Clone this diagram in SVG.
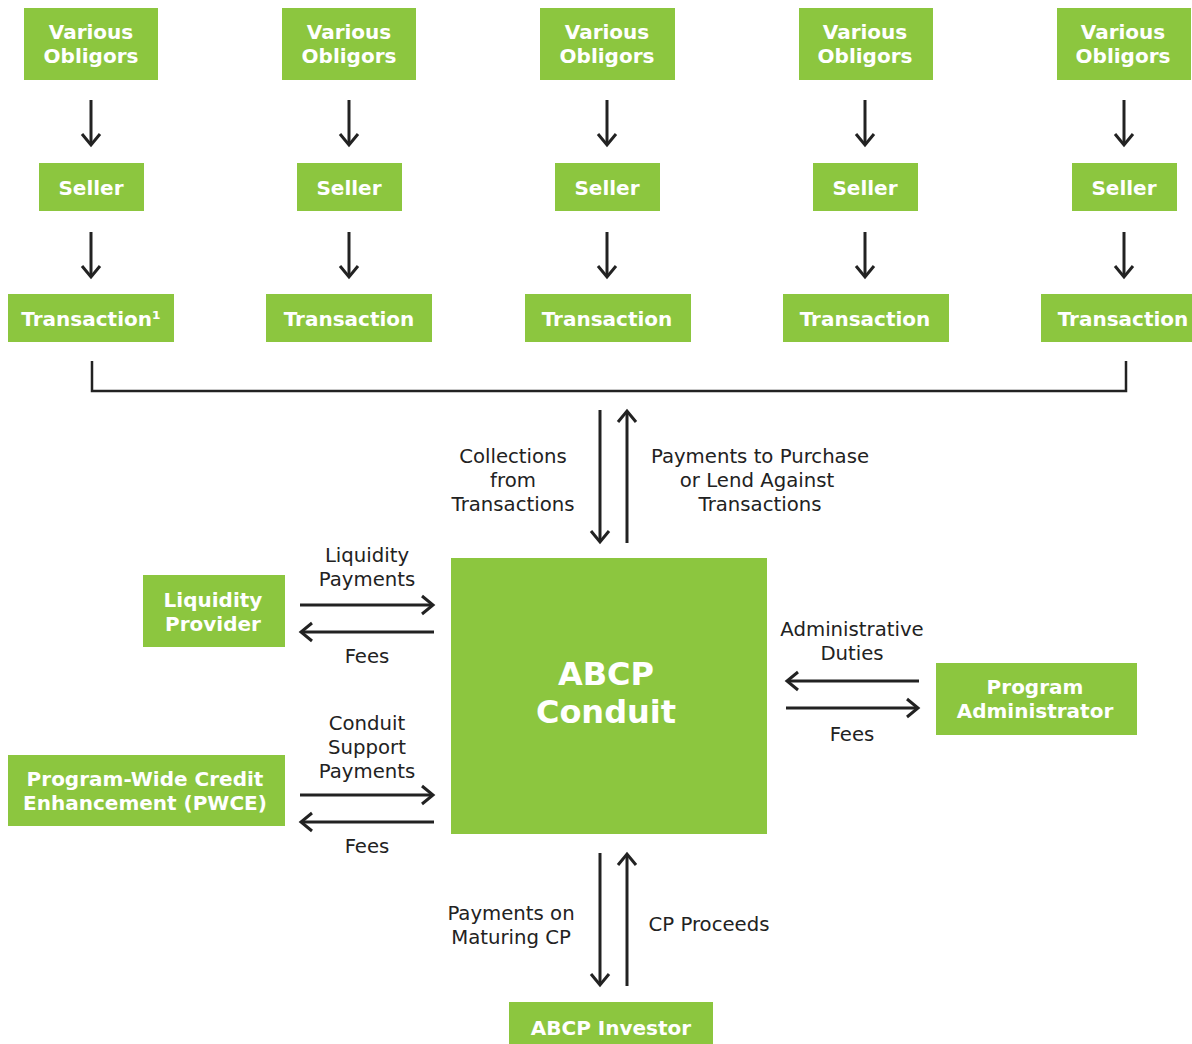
<svg xmlns="http://www.w3.org/2000/svg" width="1192" height="1044" viewBox="0 0 1192 1044">
<style>
.box{fill:#8cc63f}
.bt{font-family:"DejaVu Sans",Verdana,sans-serif;font-weight:bold;font-size:20px;fill:#fff;text-anchor:middle}
.big{font-size:32px}
.lb{font-family:"DejaVu Sans",Verdana,sans-serif;font-size:19.7px;fill:#222;text-anchor:middle}
.ln{stroke:#222;stroke-width:3;fill:none}
</style>
<defs>
<marker id="ah" viewBox="-15 -12 18 24" refX="0" refY="0" markerWidth="18" markerHeight="24" markerUnits="userSpaceOnUse" orient="auto">
<path d="M-11,-9 L0,0 L-11,9" fill="none" stroke="#222" stroke-width="3"/>
</marker>
</defs>
<rect width="1192" height="1044" fill="#fff"/>
<g id="col1">
<g id="obl1"><rect class="box" x="24" y="8" width="134" height="72"/><text class="bt" x="91" y="39">Various</text><text class="bt" x="91" y="63">Obligors</text></g>
<g id="sel1"><rect class="box" x="39" y="163" width="105" height="48"/><text class="bt" x="91" y="195">Seller</text></g>
<g id="tr1"><rect class="box" x="8" y="294" width="166" height="48"/><text class="bt" x="91" y="326">Transaction¹</text></g>
</g>
<g id="col2">
<g id="obl2"><rect class="box" x="282" y="8" width="134" height="72"/><text class="bt" x="349" y="39">Various</text><text class="bt" x="349" y="63">Obligors</text></g>
<g id="sel2"><rect class="box" x="297" y="163" width="105" height="48"/><text class="bt" x="349" y="195">Seller</text></g>
<g id="tr2"><rect class="box" x="266" y="294" width="166" height="48"/><text class="bt" x="349" y="326">Transaction</text></g>
</g>
<g id="col3">
<g id="obl3"><rect class="box" x="540" y="8" width="135" height="72"/><text class="bt" x="607" y="39">Various</text><text class="bt" x="607" y="63">Obligors</text></g>
<g id="sel3"><rect class="box" x="555" y="163" width="105" height="48"/><text class="bt" x="607" y="195">Seller</text></g>
<g id="tr3"><rect class="box" x="525" y="294" width="166" height="48"/><text class="bt" x="607" y="326">Transaction</text></g>
</g>
<g id="col4">
<g id="obl4"><rect class="box" x="799" y="8" width="134" height="72"/><text class="bt" x="865" y="39">Various</text><text class="bt" x="865" y="63">Obligors</text></g>
<g id="sel4"><rect class="box" x="813" y="163" width="105" height="48"/><text class="bt" x="865" y="195">Seller</text></g>
<g id="tr4"><rect class="box" x="783" y="294" width="166" height="48"/><text class="bt" x="865" y="326">Transaction</text></g>
</g>
<g id="col5">
<g id="obl5"><rect class="box" x="1057" y="8" width="134" height="72"/><text class="bt" x="1123" y="39">Various</text><text class="bt" x="1123" y="63">Obligors</text></g>
<g id="sel5"><rect class="box" x="1072" y="163" width="105" height="48"/><text class="bt" x="1124" y="195">Seller</text></g>
<g id="tr5"><rect class="box" x="1041" y="294" width="151" height="48"/><text class="bt" x="1123" y="326">Transaction</text></g>
</g>
<g id="conduit"><rect class="box" x="451" y="558" width="316" height="276"/><text class="bt big" x="606" y="685">ABCP</text><text class="bt big" x="606" y="723">Conduit</text></g>
<g id="liq"><rect class="box" x="143" y="575" width="142" height="72"/><text class="bt" x="213" y="607">Liquidity</text><text class="bt" x="213" y="631">Provider</text></g>
<g id="pwce"><rect class="box" x="8" y="755" width="277" height="71"/><text class="bt" x="145" y="786">Program-Wide Credit</text><text class="bt" x="145" y="810">Enhancement (PWCE)</text></g>
<g id="admin"><rect class="box" x="936" y="663" width="201" height="72"/><text class="bt" x="1035" y="694">Program</text><text class="bt" x="1035" y="718">Administrator</text></g>
<g id="investor"><rect class="box" x="509" y="1002" width="204" height="48"/><text class="bt" x="611" y="1035">ABCP Investor</text></g>
<g id="connectors">
<line class="ln" x1="91" y1="100" x2="91" y2="145" marker-end="url(#ah)"/>
<line class="ln" x1="349" y1="100" x2="349" y2="145" marker-end="url(#ah)"/>
<line class="ln" x1="607" y1="100" x2="607" y2="145" marker-end="url(#ah)"/>
<line class="ln" x1="865" y1="100" x2="865" y2="145" marker-end="url(#ah)"/>
<line class="ln" x1="1124" y1="100" x2="1124" y2="145" marker-end="url(#ah)"/>
<line class="ln" x1="91" y1="232" x2="91" y2="277" marker-end="url(#ah)"/>
<line class="ln" x1="349" y1="232" x2="349" y2="277" marker-end="url(#ah)"/>
<line class="ln" x1="607" y1="232" x2="607" y2="277" marker-end="url(#ah)"/>
<line class="ln" x1="865" y1="232" x2="865" y2="277" marker-end="url(#ah)"/>
<line class="ln" x1="1124" y1="232" x2="1124" y2="277" marker-end="url(#ah)"/>
<path d="M92,361 V391 H1126 V361" stroke="#222" stroke-width="2.5" fill="none"/>
<line class="ln" x1="600" y1="410" x2="600" y2="542" marker-end="url(#ah)"/>
<line class="ln" x1="627" y1="543" x2="627" y2="411" marker-end="url(#ah)"/>
<line class="ln" x1="300" y1="605" x2="433" y2="605" marker-end="url(#ah)"/>
<line class="ln" x1="434" y1="632" x2="301" y2="632" marker-end="url(#ah)"/>
<line class="ln" x1="300" y1="795" x2="433" y2="795" marker-end="url(#ah)"/>
<line class="ln" x1="434" y1="822" x2="301" y2="822" marker-end="url(#ah)"/>
<line class="ln" x1="919" y1="681" x2="787" y2="681" marker-end="url(#ah)"/>
<line class="ln" x1="786" y1="708" x2="918" y2="708" marker-end="url(#ah)"/>
<line class="ln" x1="600" y1="853" x2="600" y2="985" marker-end="url(#ah)"/>
<line class="ln" x1="627" y1="986" x2="627" y2="854" marker-end="url(#ah)"/>
</g>
<g id="labels">
<text class="lb" x="513" y="463">Collections</text><text class="lb" x="513" y="487">from</text><text class="lb" x="513" y="511">Transactions</text>
<text class="lb" x="760" y="463">Payments to Purchase</text><text class="lb" x="757" y="487">or Lend Against</text><text class="lb" x="760" y="511">Transactions</text>
<text class="lb" x="367" y="562">Liquidity</text><text class="lb" x="367" y="586">Payments</text>
<text class="lb" x="367" y="663">Fees</text>
<text class="lb" x="367" y="730">Conduit</text><text class="lb" x="367" y="754">Support</text><text class="lb" x="367" y="778">Payments</text>
<text class="lb" x="367" y="853">Fees</text>
<text class="lb" x="852" y="636">Administrative</text><text class="lb" x="852" y="660">Duties</text>
<text class="lb" x="852" y="741">Fees</text>
<text class="lb" x="511" y="920">Payments on</text><text class="lb" x="511" y="944">Maturing CP</text>
<text class="lb" x="709" y="931">CP Proceeds</text>
</g>
</svg>
